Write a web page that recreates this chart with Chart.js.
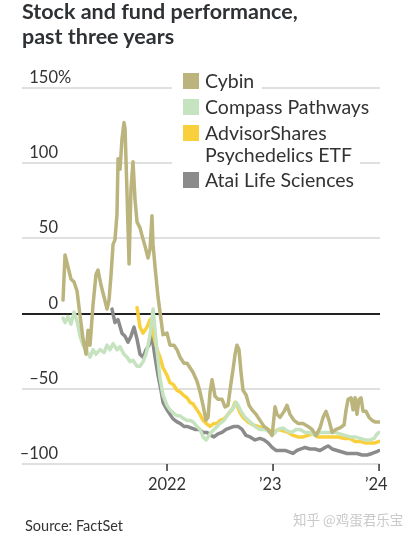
<!DOCTYPE html>
<html><head><meta charset="utf-8">
<script src="https://cdn.jsdelivr.net/npm/chart.js@4/dist/chart.umd.min.js"></script>
<style>
html,body{margin:0;padding:0;background:#fff;}
#wrap{position:relative;width:415px;height:541px;overflow:hidden;font-family:Lato,"Open Sans",sans-serif;color:#333;}
#c{position:absolute;left:0;top:0;}
#title{position:absolute;left:22px;top:-1.3px;font-weight:700;font-size:21.5px;line-height:25px;color:#2f3235;white-space:nowrap;}
.lg{position:absolute;left:172px;background:#fff;font-size:19.5px;line-height:22px;padding:0 8px 0 33px;white-space:nowrap;color:#333;}
.sw{position:absolute;left:183px;width:16px;height:16px;}
#src{position:absolute;left:25px;top:517.4px;font-size:14.5px;line-height:18px;color:#333;}
#wm{position:absolute;left:293px;top:510px;font-size:13.5px;line-height:18px;color:#c9c9c9;font-family:"Noto Sans CJK SC",sans-serif;white-space:nowrap;}
</style></head>
<body>
<div id="wrap">
<canvas id="c" width="415" height="541"></canvas>
<div id="title">Stock and fund performance,<br>past three years</div>
<div id="legend"></div>
<div id="src">Source: FactSet</div>
<div id="wm">知乎 @鸡蛋君乐宝</div>
</div>
<script>
// ---- DATA (x = years since 1 Jan 2021, y = % change) ----
const START_YEAR = 2021;
const seriesNames = ["Cybin", "Compass Pathways", "AdvisorShares Psychedelics ETF", "Atai Life Sciences"];
const xTickYears = [2022, 2023, 2024];
const xTickLabels = ["2022", "\u201923", "\u201924"];
const yTickValues = [150, 100, 50, 0, -50, -100];
const yTickLabels = ["150", "100", "50", "0", "\u201350", "\u2013100"];

const cybinT = [0.019,0.038,0.066,0.094,0.123,0.151,0.179,0.208,0.236,0.255,
0.274,0.302,0.330,0.349,0.377,0.406,0.434,0.453,0.472,0.491,
0.509,0.528,0.538,0.557,0.575,0.594,0.604,0.623,0.642,0.660,
0.679,0.698,0.717,0.745,0.764,0.792,0.821,0.840,0.858,0.868,
0.887,0.915,0.934,0.962,1.000,1.028,1.066,1.094,1.123,1.160,
1.189,1.217,1.245,1.283,1.311,1.340,1.368,1.387,1.406,1.425,
1.453,1.481,1.519,1.547,1.575,1.604,1.623,1.642,1.660,1.679,
1.698,1.717,1.745,1.774,1.802,1.840,1.877,1.915,1.953,1.991,
2.009,2.019,2.038,2.066,2.104,2.132,2.160,2.198,2.236,2.283,
2.330,2.368,2.406,2.443,2.472,2.500,2.528,2.557,2.594,2.632,
2.670,2.689,2.708,2.736,2.755,2.774,2.792,2.811,2.830,2.849,
2.877,2.906,2.934,2.962,3.000];
const cybinV = [9,39,31,23,21,15,-1,-17,-27,-11,
-21,6,26,29,19,11,3,9,26,46,
49,66,103,96,116,127,123,79,33,83,
101,76,61,57,52,45,37,43,65,46,
31,11,1,-14,-13,-21,-21,-24,-29,-33,
-33,-36,-39,-45,-52,-61,-71,-69,-52,-44,
-55,-57,-57,-62,-61,-46,-37,-27,-21,-24,
-39,-51,-54,-61,-64,-67,-71,-75,-77,-81,
-69,-62,-67,-69,-65,-61,-67,-71,-73,-73,
-75,-77,-81,-76,-69,-65,-71,-79,-77,-76,
-74,-64,-57,-56,-64,-56,-67,-57,-56,-65,
-65,-69,-71,-72,-72];

const compassT = [0.019,0.038,0.066,0.094,0.123,0.151,0.179,0.208,0.245,0.274,
0.302,0.330,0.368,0.406,0.434,0.462,0.491,0.528,0.557,0.594,
0.623,0.651,0.679,0.717,0.745,0.774,0.802,0.821,0.840,0.858,
0.868,0.887,0.906,0.934,0.962,1.000,1.028,1.057,1.094,1.123,
1.160,1.189,1.217,1.245,1.283,1.311,1.340,1.368,1.387,1.415,
1.443,1.472,1.500,1.538,1.566,1.594,1.623,1.651,1.670,1.698,
1.736,1.783,1.830,1.877,1.925,1.972,2.009,2.047,2.094,2.132,
2.179,2.217,2.255,2.302,2.349,2.396,2.443,2.491,2.538,2.585,
2.632,2.679,2.726,2.774,2.821,2.868,2.915,2.953,2.981,3.000];
const compassV = [-3,-6,-2,-7,1,-5,-15,-21,-25,-29,
-24,-27,-24,-26,-21,-24,-20,-24,-22,-27,
-29,-32,-31,-35,-35,-32,-27,-21,-14,-3,
3,-11,-25,-43,-54,-61,-64,-66,-68,-68,
-70,-71,-71,-72,-75,-77,-82,-84,-82,-79,
-77,-75,-73,-71,-68,-65,-63,-59,-61,-65,
-69,-72,-75,-77,-77,-79,-80,-77,-76,-78,
-79,-77,-77,-79,-79,-81,-79,-79,-79,-79,
-80,-81,-82,-82,-83,-84,-84,-83,-80,-79];

const etfT = [0.717,0.745,0.774,0.811,0.840,0.868,0.906,0.934,0.962,1.000,
1.028,1.057,1.094,1.123,1.151,1.189,1.217,1.245,1.283,1.311,
1.340,1.368,1.406,1.443,1.472,1.500,1.538,1.575,1.613,1.642,
1.660,1.689,1.717,1.764,1.811,1.858,1.906,1.953,2.000,2.047,
2.094,2.142,2.189,2.236,2.283,2.330,2.377,2.425,2.491,2.557,
2.613,2.679,2.726,2.774,2.821,2.868,2.915,2.962,3.000];
const etfV = [4,-9,-13,-9,-4,-13,-24,-29,-36,-41,
-46,-47,-51,-52,-54,-56,-59,-60,-64,-67,
-71,-73,-75,-73,-73,-71,-70,-67,-64,-59,
-61,-66,-69,-72,-74,-75,-76,-77,-79,-77,
-78,-79,-81,-82,-82,-81,-80,-82,-82,-82,
-82,-83,-83,-85,-85,-86,-86,-86,-85];

const ataiT = [0.481,0.509,0.538,0.575,0.604,0.632,0.660,0.689,0.717,0.745,
0.774,0.802,0.830,0.858,0.887,0.915,0.943,0.962,1.000,1.028,
1.057,1.094,1.123,1.160,1.189,1.226,1.264,1.302,1.340,1.377,
1.415,1.443,1.481,1.519,1.557,1.594,1.632,1.670,1.708,1.745,
1.783,1.830,1.877,1.915,1.953,1.991,2.028,2.066,2.113,2.151,
2.189,2.226,2.264,2.302,2.349,2.396,2.443,2.491,2.519,2.557,
2.604,2.651,2.698,2.745,2.792,2.840,2.887,2.934,2.972,3.000];
const ataiV = [3,-6,-4,-13,-15,-19,-15,-9,-17,-27,
-29,-24,-21,-15,-29,-41,-51,-59,-64,-67,
-70,-72,-73,-75,-75,-76,-77,-77,-79,-79,
-81,-82,-80,-79,-77,-76,-75,-75,-77,-81,
-82,-84,-83,-84,-86,-89,-91,-91,-91,-92,
-93,-91,-90,-89,-90,-90,-91,-89,-88,-90,
-91,-92,-93,-93,-93,-94,-94,-93,-92,-91];

// ---- STYLES ----
const COLORS = ["#bbb47c", "#c6e3c0", "#f9d03c", "#8b8b8c"];
const X_MIN = 2020.632, X_MAX = 2024.009, Y_MIN = -100, Y_MAX = 150;

function pts(T, V){ return T.map((t,i)=>({x: START_YEAR + t, y: V[i]})); }
const seriesData = [pts(cybinT,cybinV), pts(compassT,compassV), pts(etfT,etfV), pts(ataiT,ataiV)];

// legend (HTML)
const legendRows = [
  {lines:["Cybin"], base:[89], sq:73, c:0},
  {lines:["Compass Pathways"], base:[115], sq:99, c:1},
  {lines:["AdvisorShares","Psychedelics ETF"], base:[141,163], sq:125, c:2},
  {lines:["Atai Life Sciences"], base:[188], sq:172, c:3}
];
const lg = document.getElementById('legend');
legendRows.forEach(r=>{
  r.lines.forEach((t,i)=>{
    const d=document.createElement('div'); d.className='lg'; d.textContent=t;
    d.style.top=(r.base[i]-18.55)+'px'; lg.appendChild(d);
  });
  const s=document.createElement('div'); s.className='sw'; s.style.top=r.sq+'px'; s.style.background=COLORS[r.c]; lg.appendChild(s);
});

const axisPlugin = {
  id:'axisPlugin',
  beforeDatasetsDraw(chart){
    const {ctx, chartArea:a, scales:{x,y}} = chart;
    ctx.save();
    yTickValues.forEach(v=>{
      const py = Math.round(y.getPixelForValue(v));
      ctx.beginPath();
      if(v===0){ ctx.strokeStyle='#222'; ctx.lineWidth=2; }
      else { ctx.strokeStyle='#e0e0e0'; ctx.lineWidth=2; }
      ctx.moveTo(a.left,py); ctx.lineTo(a.right,py);
      ctx.stroke();
    });
    ctx.restore();
  },
  afterDraw(chart){
    const {ctx, chartArea:a, scales:{x,y}} = chart;
    ctx.save();
    ctx.fillStyle='#333';
    ctx.font='16.5px Lato, sans-serif';
    ctx.textBaseline='alphabetic';
    const rightX = 58;
    yTickValues.forEach((v,i)=>{
      const py = y.getPixelForValue(v) - 5;
      ctx.textAlign='right';
      ctx.fillText(yTickLabels[i], rightX, py);
      if(i===0){ ctx.textAlign='left'; ctx.fillText('%', rightX, py); }
    });
    xTickYears.forEach((yr,i)=>{
      const px = x.getPixelForValue(yr);
      ctx.strokeStyle='#333'; ctx.lineWidth=1.5;
      ctx.beginPath(); ctx.moveTo(px, a.bottom); ctx.lineTo(px, a.bottom+7); ctx.stroke();
      const lab = xTickLabels[i];
      if(lab.charAt(0)==='\u2019'){
        const digits = lab.slice(1);
        const w = ctx.measureText(digits).width;
        ctx.textAlign='right';
        ctx.fillText('\u2019', px - w/2 - 1, 490);
        ctx.textAlign='center';
        ctx.fillText(digits, px - 1, 490);
      } else {
        ctx.textAlign='center';
        ctx.fillText(lab, px, 490);
      }
    });
    ctx.restore();
  }
};

new Chart(document.getElementById('c').getContext('2d'), {
  type:'line',
  data:{ datasets: seriesNames.map((n,i)=>({
    label:n, data:seriesData[i], borderColor:COLORS[i], backgroundColor:COLORS[i],
    borderWidth:3.5, pointRadius:0, tension:0, fill:false,
    borderJoinStyle:'round', borderCapStyle:'round'
  }))},
  options:{
    responsive:false, animation:false, devicePixelRatio:1,
    layout:{padding:{left:22,right:35,top:88,bottom:77}},
    plugins:{legend:{display:false}, tooltip:{enabled:false}, title:{display:false}},
    scales:{
      x:{type:'linear', display:false, min:X_MIN, max:X_MAX},
      y:{type:'linear', display:false, min:Y_MIN, max:Y_MAX}
    }
  },
  plugins:[axisPlugin]
});
</script>
</body></html>
